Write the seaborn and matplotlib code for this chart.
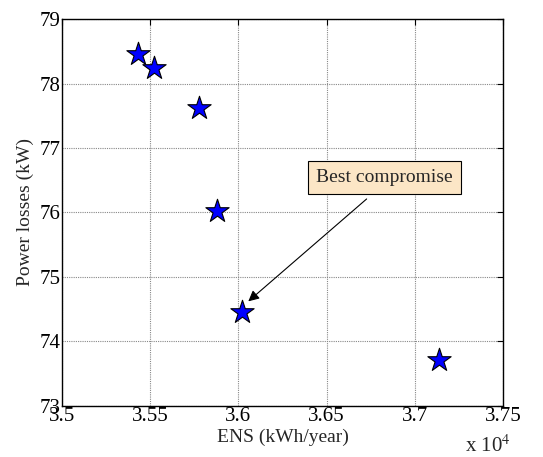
import matplotlib
matplotlib.use("Agg")
import matplotlib.pyplot as plt
import seaborn as sns
import pandas as pd
from matplotlib.ticker import FixedLocator

# Data (ENS in kWh/year, power losses in kW)
ens_values = [35433, 35523, 35778, 35879, 36022, 37135]
loss_values = [78.46, 78.25, 77.62, 76.02, 74.45, 73.71]
x_ticks = [35000, 35500, 36000, 36500, 37000, 37500]
x_tick_labels = ["3.5", "3.55", "3.6", "3.65", "3.7", "3.75"]
y_ticks = [73, 74, 75, 76, 77, 78, 79]
annotation_text = "Best compromise"

df = pd.DataFrame({"ENS": ens_values, "Loss": loss_values})

sns.set_style("white")
plt.rcParams["font.family"] = ["Liberation Serif", "DejaVu Serif"]
plt.rcParams["mathtext.fontset"] = "stix"

fig = plt.figure(figsize=(5.43, 4.57), dpi=100)
ax = fig.add_axes([0.1142, 0.1123, 0.8121, 0.8455])

sns.scatterplot(data=df, x="ENS", y="Loss", marker="*", s=310,
                color="#0000FF", edgecolor="black", linewidth=0.8,
                ax=ax, zorder=3, legend=False)

ax.set_xlim(35000, 37500)
ax.set_ylim(73, 79)
ax.xaxis.set_major_locator(FixedLocator(x_ticks))
ax.set_xticklabels(x_tick_labels)
ax.set_yticks(y_ticks)
ax.set_yticklabels([str(v) for v in y_ticks])

ax.grid(True, color="#888888", linestyle=(0, (1, 1)), linewidth=0.8)
ax.set_axisbelow(True)
for sp in ax.spines.values():
    sp.set_color("black")
    sp.set_linewidth(1.0)
    sp.set_visible(True)

ax.tick_params(direction="in", length=4, width=0.8, top=True, right=True,
               labelsize=15, pad=1, colors="black")

ax.set_xlabel("ENS (kWh/year)", fontsize=14, labelpad=2)
ax.set_ylabel("Power losses (kW)", fontsize=14, labelpad=4)

# text box
ax.text(36830, 76.54, annotation_text, fontsize=14, ha="center", va="center",
        zorder=4,
        bbox=dict(boxstyle="square,pad=0.42", fc="#FCE6C6", ec="black", lw=0.8))
# arrow
ax.annotate("", xy=(36056, 74.62), xytext=(36727, 76.21),
            arrowprops=dict(arrowstyle="-|>", color="black", lw=0.8,
                            mutation_scale=16, shrinkA=0, shrinkB=0),
            zorder=4)

fig.text(0.856, 0.01, r"x 10$^{4}$", fontsize=15, ha="left", va="baseline")

fig.savefig("out.png", dpi=100)
